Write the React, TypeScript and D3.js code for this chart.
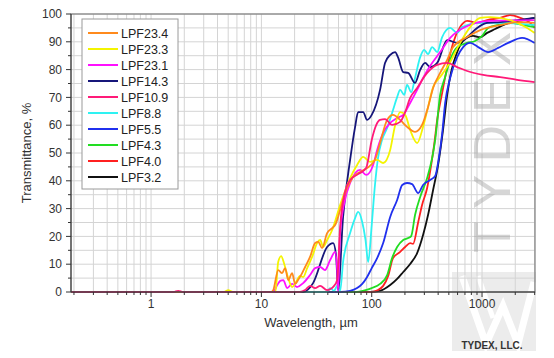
import React from "react";
import * as d3 from "d3";

// transmittance curves, [wavelength um, T %]
const lpf234: [number, number][] = [
  [0.19, 0], [12.3, 0], [12.8, 0.7], [14.2, 7.9], [15.4, 6.8], [16.4, 8.6], [17.5, 4.3], [19.0, 6.8],
  [20.2, 2.9], [21.5, 4.3], [23.4, 6.8], [24.9, 9], [27.6, 12.6], [30.7, 17.6], [32.7, 18], [35.5, 15.8],
  [39.4, 21.2], [43.8, 23], [46.6, 24.1], [53.9, 32], [59.8, 37.4], [67.8, 41.4], [78.5, 43.2], [90.8, 44.6],
  [107, 47.5], [119, 53.6], [138, 61.9], [156, 63.7], [181, 61.9], [209, 59.4], [247, 57.6], [286, 60.1],
  [324, 66.5], [360, 73.4], [417, 78.8], [483, 83.5], [547, 88.1], [733, 91.7], [961, 94.2], [1459, 96],
  [2215, 97.1], [3000, 96.8],
];
const lpf233: [number, number][] = [
  [0.19, 0], [4.6, 0], [5.0, 0.7], [5.5, 0], [13.4, 0], [14.2, 10.8], [15.1, 12.9], [16.1, 10.1],
  [17.5, 5], [19.0, 1.8], [20.6, 3.6], [22.4, 5.8], [23.9, 5.4], [26, 8.6], [28.8, 12.6], [32, 17.6],
  [34.1, 18.7], [36.3, 16.2], [39.4, 18.7], [43.8, 22.3], [51.7, 31.3], [63.7, 41], [73.7, 45.7],
  [83.6, 48.6], [96.7, 46.8], [112, 47.5], [127, 46.4], [147, 51.1], [163, 60], [181, 64.7], [201, 63.7],
  [223, 58.3], [258, 53.6], [292, 59.4], [324, 66.5], [360, 73.7], [417, 77.3], [514, 82.7], [633, 89.6],
  [780, 95.3], [961, 98.6], [1184, 98.9], [1798, 97.8], [2565, 95], [3000, 93.2],
];
const lpf231: [number, number][] = [
  [0.19, 0], [12.8, 0], [13.8, 2.2], [14.8, 4], [15.8, 4.3], [17.1, 1.4], [19.0, 2.9], [21.0, 1.8],
  [23.9, 3.2], [27.6, 6.1], [30.7, 8.6], [34.1, 9], [37.7, 7.9], [42, 11.5], [46.6, 14.4], [48.6, 7.9],
  [49.6, 0.4], [51.7, 21.2], [57.2, 33.1], [63.7, 39.2], [78.5, 43.9], [89, 42.1], [103, 45.7], [112, 51.1],
  [127, 57.2], [147, 60.8], [170, 62.6], [193, 63.7], [223, 68], [258, 72.7], [292, 77], [338, 81.3],
  [417, 86.3], [514, 91.4], [703, 95.3], [1184, 97.5], [3000, 97.8],
];
const lpf143: [number, number][] = [
  [0.19, 0], [23.9, 0], [29.4, 3.2], [39.4, 16.2], [44.7, 17.6], [47.5, 13.3], [49.6, 0.7], [55.0, 27],
  [63.7, 47.5], [70.7, 59.4], [75.3, 64.7], [83.6, 64.7], [90.8, 61.9], [100, 63.7], [119, 72.7],
  [132, 82.4], [147, 85.3], [163, 86.3], [173, 84.5], [193, 79.1], [214, 78.8], [247, 75.2], [275, 79.9],
  [305, 82.4], [338, 80.9], [392, 82.4], [483, 90.6], [595, 89.6], [733, 91.7], [903, 95], [1112, 96.8],
  [1459, 97.1], [3000, 98.6],
];
const lpf109: [number, number][] = [
  [0.19, 0], [1.6, 0], [1.76, 0.4], [1.95, 0], [22.4, 0], [24.9, 0.7], [27.6, 2.2], [30.7, 1.4],
  [34.1, 2.2], [39.4, 0.7], [45.6, 2.2], [48.6, 4.3], [51.7, 23.4], [57.2, 36], [63.7, 40.3], [75.3, 42.4],
  [89, 44.6], [100, 54.7], [110, 60.1], [119, 61.9], [132, 62.2], [153, 60.1], [181, 61.2], [201, 64.7],
  [223, 69.8], [258, 73.4], [318, 78.8], [392, 81.7], [483, 82.4], [595, 80.9], [733, 79.5], [1023, 78.1],
  [1459, 77.3], [2080, 76.3], [3000, 75.5],
];
const lpf88: [number, number][] = [
  [0.19, 0], [39.4, 0], [42, 1.4], [45.6, 0.4], [48.6, 2.2], [51.7, 0.4], [55, 10.8], [63.7, 21.2],
  [70.7, 26.6], [75.3, 28.8], [82, 25.2], [87.9, 18.7], [92.9, 10.8], [100, 24.1], [107, 38.5], [114, 48.2],
  [124, 54.7], [138, 59], [156, 65.5], [170, 70.1], [181, 72.7], [197, 70.9], [209, 74.5], [228, 71.9],
  [247, 77], [275, 84.5], [299, 87.1], [324, 85.6], [353, 88.1], [392, 86.3], [435, 91.7], [514, 95],
  [595, 93.2], [660, 95.3], [961, 96.8], [1459, 96.8], [3000, 96],
];
const lpf55: [number, number][] = [
  [0.19, 0], [51.7, 0], [63.7, 0.4], [73.7, 1.4], [82, 2.9], [90.8, 5.4], [100, 8.6], [112, 12.2],
  [127, 17.6], [147, 27], [170, 33.1], [189, 38.5], [209, 39.2], [232, 38.8], [264, 35.6], [292, 38.5],
  [338, 40.3], [376, 41.7], [405, 48], [435, 57], [463, 68], [514, 77], [595, 84.5], [674, 88.1],
  [780, 89.6], [922, 88.1], [1136, 86.3], [1399, 87.8], [1725, 89.6], [2307, 91.4], [3000, 89.6],
];
const lpf43: [number, number][] = [
  [0.19, 0], [70.7, 0], [87.9, 0.7], [100, 1.4], [119, 2.9], [138, 6.1], [153, 12.2], [170, 16.2],
  [193, 18.7], [214, 19.4], [228, 20.1], [247, 27.7], [275, 34.2], [318, 41], [353, 48.2], [376, 54.7],
  [417, 70.9], [463, 77.3], [514, 83.5], [595, 88.1], [733, 89.6], [865, 90.3], [1002, 92.1], [1136, 95],
  [1371, 96], [1798, 96.8], [2360, 96], [3000, 95.3],
];
const lpf40: [number, number][] = [
  [0.19, 0], [100, 0], [114, 0.7], [127, 2.2], [141, 5.8], [156, 12.2], [181, 14.4], [201, 16.2],
  [223, 17.6], [237, 17.3], [264, 25.2], [286, 31.3], [318, 37.4], [346, 45.7], [368, 52.9], [392, 61.9],
  [435, 71.6], [483, 80.9], [547, 89.6], [633, 95.3], [733, 97.5], [903, 96.8], [1112, 97.8], [1459, 98.6],
  [1798, 99.6], [2215, 98.6], [2730, 96.8], [3000, 95],
];
const lpf32: [number, number][] = [
  [0.19, 0], [96.7, 0], [119, 0.4], [147, 2.5], [170, 4.7], [193, 7.2], [223, 10.1], [258, 14],
  [292, 20.5], [324, 27.7], [360, 36.7], [400, 45.7], [443, 58.3], [483, 70.9], [524, 79.1], [595, 86.3],
  [674, 90.3], [830, 92.1], [961, 91.7], [1112, 93.2], [1315, 94.6], [1553, 96], [1914, 97.1],
  [2360, 97.8], [3000, 98.6],
];

const names = ["LPF23.4", "LPF23.3", "LPF23.1", "LPF14.3", "LPF10.9", "LPF8.8", "LPF5.5", "LPF4.3", "LPF4.0", "LPF3.2"];
const colors = ["#ff8a1c", "#f4f400", "#ff10ff", "#16167a", "#ff1a78", "#2ef2f2", "#2030ee", "#22dd22", "#ff2020", "#111111"];
const curves = [lpf234, lpf233, lpf231, lpf143, lpf109, lpf88, lpf55, lpf43, lpf40, lpf32];

const xLabels = [1, 10, 100, 1000];
const yLabels = [0, 10, 20, 30, 40, 50, 60, 70, 80, 90, 100];

const W = 554;
const H = 358;
const m = { top: 14, right: 19, bottom: 66, left: 71 };
const font = "'Liberation Sans', Arial, sans-serif";

export default function App() {
  const x = d3.scaleLog().domain([0.188, 3020]).range([m.left, W - m.right]);
  const y = d3.scaleLinear().domain([0, 100]).range([H - m.bottom, m.top]);
  const line = d3
    .line<[number, number]>()
    .x((d) => x(d[0]))
    .y((d) => y(d[1]))
    .curve(d3.curveMonotoneX);

  // every 1..9 x 10^n inside the domain
  const minor: number[] = [];
  for (let e = -1; e <= 3; e++) {
    for (let k = 1; k <= 9; k++) {
      const v = k * Math.pow(10, e);
      if (v >= 0.188 && v <= 3020) minor.push(v);
    }
  }
  const yMinor = d3.range(0, 101, 5);
  const x0 = m.left, x1 = W - m.right, y0 = H - m.bottom, y1 = m.top;

  // draw order: hot pink last so the zero baseline shows pink
  const order = [9, 8, 7, 6, 5, 3, 2, 1, 0, 4];

  return (
    <svg width={W} height={H} style={{ position: "absolute", left: 0, top: 0, background: "#fff" }} fontFamily={font}>
      {/* logo block, bottom right */}
      <rect x={452} y={272} width={84} height={79} fill="#ececec" />
      <polyline points="462,276 486,344 503,306 518,344 534,282" fill="none" stroke="#fff" strokeWidth={7} />
      <polyline points="478,276 493,318" fill="none" stroke="#fff" strokeWidth={5} />
      <text x={492} y={349} textAnchor="middle" fontSize={10} fontWeight="bold" fill="#333">TYDEX, LLC.</text>

      {/* grid */}
      {yMinor.map((v) => (
        <line key={"gy" + v} x1={x0} x2={x1} y1={y(v)} y2={y(v)} stroke="#d4d4d4" strokeWidth={1} />
      ))}
      {minor.map((v) => (
        <line key={"gx" + v} x1={x(v)} x2={x(v)} y1={y0} y2={y1} stroke="#d4d4d4" strokeWidth={1} />
      ))}

      {/* watermark */}
      <text transform="translate(510,253) rotate(-90)" fontSize={52} letterSpacing={12} fill="#999" fillOpacity={0.4}>
        TYDEX
      </text>

      {/* curves */}
      {order.map((i) => (
        <path key={names[i]} d={line(curves[i]) || ""} fill="none" stroke={colors[i]} strokeWidth={1.8} strokeLinejoin="round" />
      ))}

      {/* frame */}
      <rect x={x0} y={y1} width={x1 - x0} height={y0 - y1} fill="none" stroke="#6a6a6a" strokeWidth={1} />
      <line x1={x0} x2={x0} y1={y0} y2={y1} stroke="#333" />
      <line x1={x0} x2={x1} y1={y0} y2={y0} stroke="#333" />

      {/* x ticks */}
      {minor.map((v) => {
        const major = xLabels.includes(v);
        return <line key={"tx" + v} x1={x(v)} x2={x(v)} y1={y0} y2={y0 + (major ? 5 : 3)} stroke="#333" />;
      })}
      {xLabels.map((v) => (
        <text key={"lx" + v} x={x(v)} y={y0 + 16} textAnchor="middle" fontSize={12} fill="#333">{v}</text>
      ))}

      {/* y ticks */}
      {yMinor.map((v) => (
        <line key={"ty" + v} x1={x0} x2={x0 - (v % 10 === 0 ? 5 : 3)} y1={y(v)} y2={y(v)} stroke="#333" />
      ))}
      {yLabels.map((v) => (
        <text key={"ly" + v} x={x0 - 9} y={y(v)} dy="0.35em" textAnchor="end" fontSize={12} fill="#333">{v}</text>
      ))}

      {/* axis titles */}
      <text x={(x0 + x1) / 2 + 8} y={327} textAnchor="middle" fontSize={13} fill="#333">Wavelength, µm</text>
      <text transform={`translate(31,${(y0 + y1) / 2}) rotate(-90)`} textAnchor="middle" fontSize={13} fill="#333">
        Transmittance, %
      </text>

      {/* legend */}
      <rect x={82} y={19} width={96} height={170} fill="#fff" stroke="#9a9a9a" />
      {names.map((n, i) => (
        <g key={"lg" + n} transform={`translate(88,${33 + i * 16})`}>
          <line x1={0} x2={30} y1={0} y2={0} stroke={colors[i]} strokeWidth={2} />
          <text x={33} y={0} dy="0.36em" fontSize={12.5} fill="#222">{n}</text>
        </g>
      ))}
    </svg>
  );
}
